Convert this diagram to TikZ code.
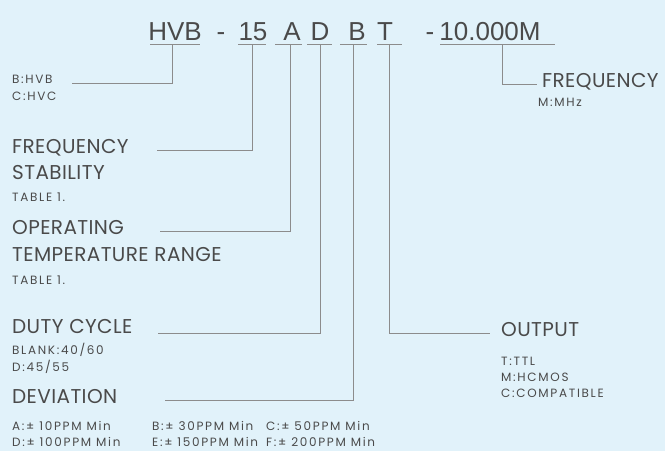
\documentclass[tikz,border=0pt]{standalone}
\usepackage{fontspec}
\newfontfamily\titlefont{Liberation Sans}
\newfontfamily\labfont[LetterSpace=2]{Poppins}
\newfontfamily\smfont[LetterSpace=14]{Poppins}
\definecolor{bgblue}{HTML}{E1F2FA}
\definecolor{txt}{HTML}{4A4A4A}
\definecolor{ln}{HTML}{8C8C8C}
\begin{document}
\begin{tikzpicture}[x=1pt,y=-1pt,
  tt/.style={font=\titlefont\fontsize{26}{26}\selectfont, text=txt, anchor=base, inner sep=0pt},
  big/.style={font=\labfont\fontsize{20}{20}\selectfont, text=txt, anchor=west, inner sep=0pt, text height=0.7em, text depth=0pt},
  small/.style={font=\smfont\fontsize{12}{12}\selectfont, text=txt, anchor=west, inner sep=0pt, text height=0.7em, text depth=0pt},
  conn/.style={draw=ln, line width=0.8pt},
  ul/.style={draw=ln, line width=0.8pt}]
\fill[bgblue] (0,0) rectangle (665,451);
\useasboundingbox (0,0) rectangle (665,451);
% title
\node[tt] (hvb) at (175,40) {HVB};
\node[tt] (d1) at (221,40) {-};
\node[tt] (n15) at (253,40) {15};
\node[tt] (a) at (292,40) {A};
\node[tt] (d) at (320,40) {D};
\node[tt] (b) at (357,40) {B};
\node[tt] (t) at (385,40) {T};
\node[tt] (d2) at (430,40) {-};
\node[tt] (freq) at (490,40) {10.000M};
% underlines
\draw[ul] (150,44) -- (200,44);
\draw[ul] (238,44) -- (266,44);
\draw[ul] (275,44) -- (302,44);
\draw[ul] (307,44) -- (332,44);
\draw[ul] (340,44) -- (367,44);
\draw[ul] (377,44) -- (402,44);
\draw[ul] (440,44) -- (555,44);
% labels
\node[small] (lhvb) at (12,80) {B:HVB};
\node[small] (lhvc) at (12,97) {C:HVC};
\node[big] (lfs) at (12,150) {FREQUENCY};
\node[big] (lfs2) at (12,176) {STABILITY};
\node[small] (lt1) at (12,198) {TABLE 1.};
\node[big] (lop) at (12,231) {OPERATING};
\node[big] (lop2) at (12,258) {TEMPERATURE RANGE};
\node[small] (lt2) at (12,281) {TABLE 1.};
\node[big] (ldc) at (12,330) {DUTY CYCLE};
\node[small] (ldc1) at (12,351) {BLANK:40/60};
\node[small] (ldc2) at (12,368) {D:45/55};
\node[big] (ldev) at (12,400) {DEVIATION};
\node[small] (dv1) at (12,427) {A:± 10PPM Min};
\node[small] (dv2) at (152,427) {B:± 30PPM Min};
\node[small] (dv3) at (266,427) {C:± 50PPM Min};
\node[small] (dv4) at (12,443) {D:± 100PPM Min};
\node[small] (dv5) at (152,443) {E:± 150PPM Min};
\node[small] (dv6) at (266,443) {F:± 200PPM Min};
\node[big] (lout) at (501,333) {OUTPUT};
\node[small] (lo1) at (501,362) {T:TTL};
\node[small] (lo2) at (501,378) {M:HCMOS};
\node[small] (lo3) at (501,394) {C:COMPATIBLE};
\node[big] (lfr) at (542,84) {FREQUENCY};
\node[small] (lfr1) at (538,103) {M:MHz};
% connector ends
\coordinate (u1) at (172,44); \coordinate (e1) at (72,83);
\coordinate (u2) at (252,44); \coordinate (e2) at (157,150);
\coordinate (u3) at (290,44); \coordinate (e3) at (160,231);
\coordinate (u4) at (320,44); \coordinate (e4) at (158,333);
\coordinate (u5) at (353,44); \coordinate (e5) at (165,400);
\coordinate (u6) at (389,44); \coordinate (e6) at (490,333);
\coordinate (u7) at (502,44); \coordinate (e7) at (537,84);
\draw[conn] (u1) |- (e1);
\draw[conn] (u2) |- (e2);
\draw[conn] (u3) |- (e3);
\draw[conn] (u4) |- (e4);
\draw[conn] (u5) |- (e5);
\draw[conn] (u6) |- (e6);
\draw[conn] (u7) |- (e7);
\end{tikzpicture}
\end{document}
